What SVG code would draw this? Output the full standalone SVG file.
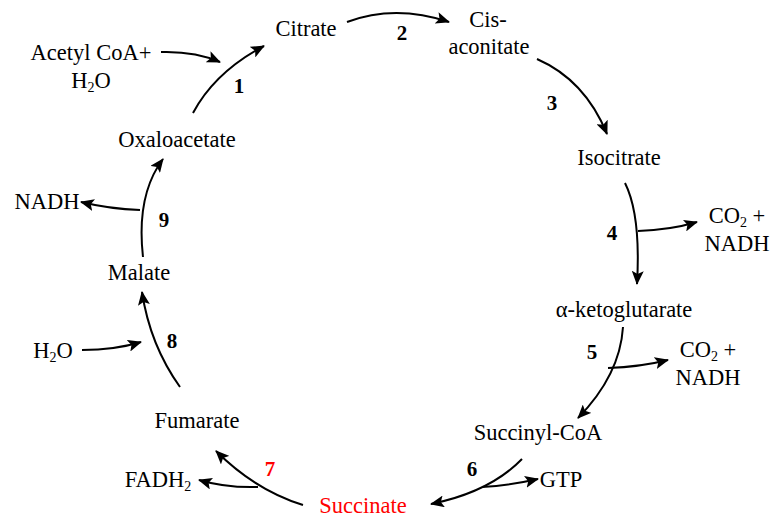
<svg xmlns="http://www.w3.org/2000/svg" width="771" height="518" viewBox="0 0 771 518">
  <style>
    .t { font-family: "Liberation Serif", "Times New Roman", serif; font-size: 22.5px; fill: #000; text-anchor: middle; }
    .n { font-family: "Liberation Serif", "Times New Roman", serif; font-size: 21px; font-weight: bold; fill: #000; text-anchor: middle; }
    .red { fill: #ff0000; }
    .sub { font-size: 14px; }
    .c { fill: none; stroke: #000; stroke-width: 2; marker-end: url(#ah); }
  </style>
  <defs>
    <marker id="ah" markerUnits="userSpaceOnUse" markerWidth="14" markerHeight="12" viewBox="0 0 14 12" refX="13" refY="6" orient="auto">
      <path d="M0,0 L14,6 L0,12 L3,6 Z" fill="#000"/>
    </marker>
  </defs>

  <rect width="771" height="518" fill="#fff"/>

  <!-- cycle connectors and side branches -->
  <g id="connectors">
    <path class="c" d="M193,113 Q215,72 264,46"/>
    <path class="c" d="M161,52 Q195,51 220,62"/>
    <path class="c" d="M347,22 Q395,4 449,22"/>
    <path class="c" d="M537,59 Q585,80 607,134"/>
    <path class="c" d="M625,183 Q641,215 637,284"/>
    <path class="c" d="M638,231 Q670,230 697,222"/>
    <path class="c" d="M623,327 Q620,375 578,418"/>
    <path class="c" d="M608,368 Q640,367 668,360"/>
    <path class="c" d="M522,459 Q490,492 431,504"/>
    <path class="c" d="M482,487 Q512,485 538,479"/>
    <path class="c" d="M303,505 Q255,490 216,451"/>
    <path class="c" d="M258,487 Q226,488 199,480"/>
    <path class="c" d="M180,387 Q150,345 142,292"/>
    <path class="c" d="M82,350 Q115,350 141,342"/>
    <path class="c" d="M143,257 Q136,195 163,159"/>
    <path class="c" d="M140,210 Q110,209 81,202"/>
  </g>

  <g id="citrate"><text class="t" x="306" y="36">Citrate</text></g>
  <g id="cis-aconitate">
    <text class="t" x="488" y="27">Cis-</text>
    <text class="t" x="489" y="54">aconitate</text>
  </g>
  <g id="isocitrate"><text class="t" x="619" y="165">Isocitrate</text></g>
  <g id="alpha-ketoglutarate"><text class="t" x="624" y="317">α-ketoglutarate</text></g>
  <g id="succinyl-coa"><text class="t" x="538" y="440">Succinyl-CoA</text></g>
  <g id="succinate"><text class="t red" x="363" y="513">Succinate</text></g>
  <g id="fumarate"><text class="t" x="197" y="428">Fumarate</text></g>
  <g id="malate"><text class="t" x="139" y="280">Malate</text></g>
  <g id="oxaloacetate"><text class="t" x="177" y="147">Oxaloacetate</text></g>

  <g id="acetyl-coa-in">
    <text class="t" x="91" y="60">Acetyl CoA+</text>
    <text class="t" x="91" y="88">H<tspan class="sub" dy="4">2</tspan><tspan dy="-4">O</tspan></text>
  </g>
  <g id="out-4">
    <text class="t" x="737" y="223">CO<tspan class="sub" dy="4">2</tspan><tspan dy="-4"> +</tspan></text>
    <text class="t" x="737" y="251">NADH</text>
  </g>
  <g id="out-5">
    <text class="t" x="708" y="357">CO<tspan class="sub" dy="4">2</tspan><tspan dy="-4"> +</tspan></text>
    <text class="t" x="708" y="385">NADH</text>
  </g>
  <g id="gtp"><text class="t" x="561" y="487">GTP</text></g>
  <g id="fadh2"><text class="t" x="158" y="487">FADH<tspan class="sub" dy="4">2</tspan></text></g>
  <g id="water-in"><text class="t" x="53" y="358">H<tspan class="sub" dy="4">2</tspan><tspan dy="-4">O</tspan></text></g>
  <g id="nadh-out"><text class="t" x="47" y="209">NADH</text></g>

  <g id="steps">
    <text class="n" x="239" y="93">1</text>
    <text class="n" x="402" y="40">2</text>
    <text class="n" x="552" y="110">3</text>
    <text class="n" x="612" y="240">4</text>
    <text class="n" x="592" y="359">5</text>
    <text class="n" x="472" y="476">6</text>
    <text class="n red" x="270" y="476">7</text>
    <text class="n" x="172" y="348">8</text>
    <text class="n" x="164" y="227">9</text>
  </g>
</svg>
